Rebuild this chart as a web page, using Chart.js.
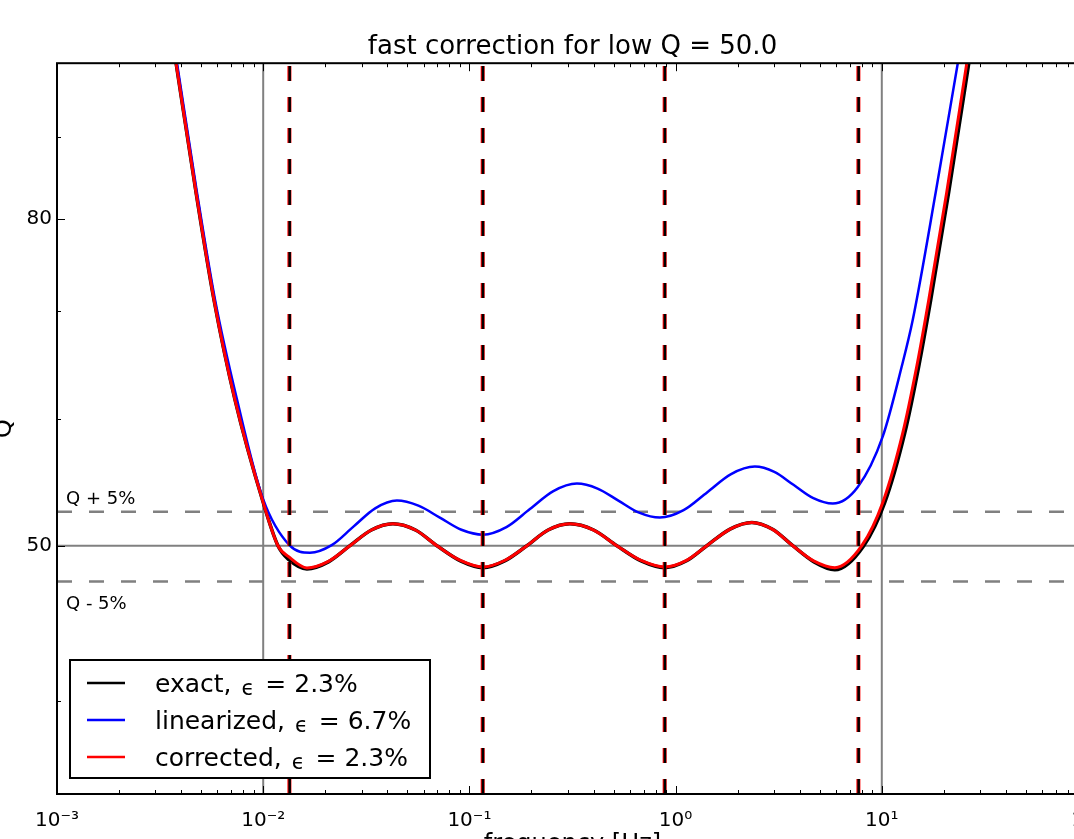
<!DOCTYPE html>
<html>
<head>
<meta charset="utf-8">
<script src="https://cdn.jsdelivr.net/npm/chart.js@4.4.0/dist/chart.umd.min.js"></script>
<style>
  html, body { margin: 0; padding: 0; background: #fff; overflow: hidden; }
  #wrap { position: absolute; left: -20px; top: 0; width: 1150px; height: 880px; }
</style>
</head>
<body>
<div id="wrap"><canvas id="qChart" width="1150" height="880"></canvas></div>
<script>
// values
const exactFreq = [0.00378, 0.00472, 0.00577, 0.00729, 0.00997, 0.01179, 0.01333, 0.0163, 0.02072, 0.02634, 0.03348, 0.04257, 0.05472, 0.0696, 0.09046, 0.1163, 0.14826, 0.190, 0.24083, 0.3071, 0.4005, 0.519, 0.68042, 0.887, 1.1304, 1.417, 1.8376, 2.343, 2.9532, 3.702, 4.6947, 5.917, 8.18, 10.34, 12.93, 15.11, 17.28, 21.12, 26.42];
const exactQ = [100, 83.1, 71.2, 61.7, 53.27, 50.0, 49.0, 48.36, 48.85, 50.0, 51.14, 51.6, 51.14, 50.0, 48.92, 48.45, 48.92, 50.0, 51.14, 51.6, 51.14, 50.0, 48.92, 48.45, 48.93, 50.0, 51.21, 51.7, 51.19, 50.0, 48.85, 48.3, 50.0, 53.2, 58.8, 64.7, 71.2, 83.1, 100];

const linFreq = [0.00382, 0.00477, 0.00584, 0.00746, 0.00997, 0.01348, 0.01685, 0.02149, 0.02739, 0.03491, 0.04451, 0.05659, 0.0719, 0.09147, 0.1163, 0.15119, 0.19652, 0.2554, 0.3321, 0.41834, 0.52775, 0.6654, 0.8387, 1.0934, 1.4255, 1.8582, 2.422, 3.0116, 3.7444, 4.6556, 5.786, 7.648, 10.11, 12.5, 14.14, 18.27, 23.36];
const linQ = [100, 83.1, 71.2, 61.7, 53.5, 50.0, 49.5, 50.04, 51.39, 52.76, 53.35, 52.96, 52.06, 51.16, 50.8, 51.35, 52.7, 54.08, 54.67, 54.28, 53.35, 52.43, 52.06, 52.62, 54.0, 55.42, 56.02, 55.59, 54.55, 53.53, 53.12, 54.4, 58.5, 64.7, 69.2, 83.1, 100];

const corrFreq = [0.00378, 0.00472, 0.00577, 0.00729, 0.00997, 0.01179, 0.01333, 0.0163, 0.02072, 0.02634, 0.03348, 0.04257, 0.05472, 0.0696, 0.09046, 0.1163, 0.14826, 0.190, 0.24083, 0.3071, 0.4005, 0.519, 0.68042, 0.887, 1.1304, 1.417, 1.8376, 2.343, 2.9532, 3.702, 4.6947, 5.917, 8.0, 10.11, 12.64, 14.78, 16.9, 20.66, 25.83];
const corrQ = [100, 83.1, 71.2, 61.7, 53.27, 50.0, 49.2, 48.43, 48.89, 50.0, 51.14, 51.6, 51.14, 50.0, 48.95, 48.5, 48.95, 50.0, 51.14, 51.6, 51.14, 50.0, 48.95, 48.5, 48.96, 50.0, 51.21, 51.7, 51.19, 50.0, 48.9, 48.45, 50.0, 53.2, 58.8, 64.7, 71.2, 83.1, 100];

const relaxFreqs = [0.0134, 0.116, 0.885, 7.7];
const bandFreqs = [0.01, 10];
const targetQ = 50;
const bandQ = [52.5, 47.5];
const bandLabels = ['Q + 5%', 'Q - 5%'];

const xTicks = [0.001, 0.01, 0.1, 1, 10, 100];
const yTicks = [50, 80];
const yMinor = [40, 60, 70, 90];

const legendLabels = [['exact, ', 'ϵ', ' = 2.3%'], ['linearized, ', 'ϵ', ' = 6.7%'], ['corrected, ', 'ϵ', ' = 2.3%']];
const legendColors = ['#000000', '#0000ff', '#ff0000'];

const xMin = 0.001, xMax = 100, yMin = 35, yMax = 100;

const pts = (fs, qs) => fs.map((f, i) => ({ x: f, y: qs[i] }));
const supMap = { '-': '⁻', '0': '⁰', '1': '¹', '2': '²', '3': '³' };

const datasets = [];
// reference lines
bandFreqs.forEach(f => datasets.push({
    data: [{ x: f, y: yMin }, { x: f, y: yMax }],
    borderColor: '#808080', borderWidth: 2, order: 10
}));
datasets.push({
    data: [{ x: xMin, y: targetQ }, { x: xMax, y: targetQ }],
    borderColor: '#808080', borderWidth: 2, order: 10
});
bandQ.forEach(q => datasets.push({
    data: [{ x: xMin, y: q }, { x: xMax, y: q }],
    borderColor: '#808080', borderWidth: 2.5, borderDash: [15, 17], order: 10
}));
// curves
datasets.push({ data: pts(exactFreq, exactQ), borderColor: '#000000', borderWidth: 3.5, cubicInterpolationMode: 'monotone', order: 5 });
datasets.push({ data: pts(linFreq, linQ), borderColor: '#0000ff', borderWidth: 2.5, cubicInterpolationMode: 'monotone', order: 4 });
datasets.push({ data: pts(corrFreq, corrQ), borderColor: '#ff0000', borderWidth: 3, cubicInterpolationMode: 'monotone', order: 3 });
// relaxation frequencies
relaxFreqs.forEach(f => {
    datasets.push({ data: [{ x: f, y: yMin }, { x: f, y: yMax }], borderColor: '#ff0000', borderWidth: 4, borderDash: [15, 16], order: 2 });
    datasets.push({ data: [{ x: f * 1.003, y: yMin }, { x: f * 1.003, y: yMax }], borderColor: '#000000', borderWidth: 2.5, borderDash: [15, 16], order: 1 });
});

const decorations = {
    id: 'decorations',
    afterDraw(chart) {
        const { ctx, chartArea: a, scales: { x, y } } = chart;
        ctx.save();
        ctx.strokeStyle = '#000';
        ctx.lineWidth = 1;
        ctx.beginPath();
        // x ticks, top and bottom
        for (let d = -3; d <= 2; d++) {
            const base = Math.pow(10, d);
            const px = Math.round(x.getPixelForValue(base)) + 0.5;
            ctx.moveTo(px, a.bottom); ctx.lineTo(px, a.bottom - 8);
            ctx.moveTo(px, a.top); ctx.lineTo(px, a.top + 8);
            if (d == 2) continue;
            for (let m = 2; m <= 9; m++) {
                const mx = Math.round(x.getPixelForValue(base * m)) + 0.5;
                ctx.moveTo(mx, a.bottom); ctx.lineTo(mx, a.bottom - 4);
                ctx.moveTo(mx, a.top); ctx.lineTo(mx, a.top + 4);
            }
        }
        yTicks.forEach(v => {
            const py = Math.round(y.getPixelForValue(v)) + 0.5;
            ctx.moveTo(a.left, py); ctx.lineTo(a.left + 8, py);
            ctx.moveTo(a.right, py); ctx.lineTo(a.right - 8, py);
        });
        yMinor.forEach(v => {
            const py = Math.round(y.getPixelForValue(v)) + 0.5;
            ctx.moveTo(a.left, py); ctx.lineTo(a.left + 4, py);
            ctx.moveTo(a.right, py); ctx.lineTo(a.right - 4, py);
        });
        ctx.stroke();

        // frame
        ctx.lineWidth = 2;
        ctx.strokeRect(a.left, a.top, a.right - a.left, a.bottom - a.top);

        // band labels
        ctx.fillStyle = '#000';
        ctx.font = '18px "DejaVu Sans"';
        ctx.textBaseline = 'alphabetic';
        ctx.textAlign = 'left';
        ctx.fillText(bandLabels[0], a.left + 9, y.getPixelForValue(bandQ[0]) - 8);
        ctx.fillText(bandLabels[1], a.left + 9, y.getPixelForValue(bandQ[1]) + 28);

        // legend
        const lx = a.left + 13, ly = a.bottom - 134, lw = 360, lh = 118;
        ctx.fillStyle = '#fff';
        ctx.fillRect(lx, ly, lw, lh);
        ctx.lineWidth = 2;
        ctx.strokeStyle = '#000';
        ctx.strokeRect(lx, ly, lw, lh);
        legendLabels.forEach((parts, i) => {
            const ry = ly + 23 + i * 37;
            ctx.strokeStyle = legendColors[i];
            ctx.lineWidth = 2.5;
            ctx.beginPath();
            ctx.moveTo(lx + 17, ry); ctx.lineTo(lx + 55, ry);
            ctx.stroke();
            ctx.fillStyle = '#000';
            ctx.textBaseline = 'alphabetic';
            let tx = lx + 85;
            const base = ry + 9;
            ctx.font = '25px "DejaVu Sans"';
            ctx.fillText(parts[0], tx, base);
            tx += ctx.measureText(parts[0]).width + 2;
            ctx.font = '21px "DejaVu Sans"';
            ctx.fillText(parts[1], tx, base + 3);
            tx += ctx.measureText(parts[1]).width + 3;
            ctx.font = '25px "DejaVu Sans"';
            ctx.fillText(parts[2], tx, base);
        });
        ctx.restore();
    }
};

new Chart(document.getElementById('qChart'), {
    type: 'line',
    data: { datasets: datasets },
    options: {
        responsive: false,
        animation: false,
        events: [],
        elements: { point: { radius: 0 } },
        layout: { padding: { right: 42 } },
        plugins: {
            legend: { display: false },
            tooltip: { enabled: false },
            title: {
                display: true,
                text: 'fast correction for low Q = 50.0',
                fullSize: false,
                color: '#000',
                font: { family: 'DejaVu Sans', size: 26, weight: 'normal', lineHeight: 1.2 },
                padding: { top: 32, bottom: 0 }
            }
        },
        scales: {
            x: {
                type: 'logarithmic',
                min: xMin, max: xMax,
                grid: { display: false },
                border: { display: false },
                afterBuildTicks: s => { s.ticks = xTicks.map(v => ({ value: v })); },
                afterFit: s => { s.height = 86; },
                ticks: {
                    color: '#000',
                    padding: 7,
                    maxRotation: 0,
                    autoSkip: false,
                    font: { family: 'DejaVu Sans', size: 20 },
                    callback: v => '10' + String(Math.round(Math.log10(v))).split('').map(c => supMap[c]).join('')
                },
                title: {
                    display: true, text: 'frequency [Hz]', color: '#000',
                    font: { family: 'DejaVu Sans', size: 24, lineHeight: 1.2 },
                    padding: { top: 0, bottom: 21 }
                }
            },
            y: {
                type: 'logarithmic',
                min: yMin, max: yMax,
                grid: { display: false, drawTicks: false },
                border: { display: false },
                afterBuildTicks: s => { s.ticks = yTicks.map(v => ({ value: v })); },
                afterFit: s => { s.width = 77; },
                ticks: {
                    color: '#000',
                    padding: 5,
                    font: { family: 'DejaVu Sans', size: 20 },
                    callback: v => String(v)
                },
                title: {
                    display: true, text: 'Q', color: '#000',
                    font: { family: 'DejaVu Sans', size: 24, lineHeight: 1.2 },
                    padding: { top: 10, bottom: 0 }
                }
            }
        }
    },
    plugins: [decorations]
});
</script>
</body>
</html>
